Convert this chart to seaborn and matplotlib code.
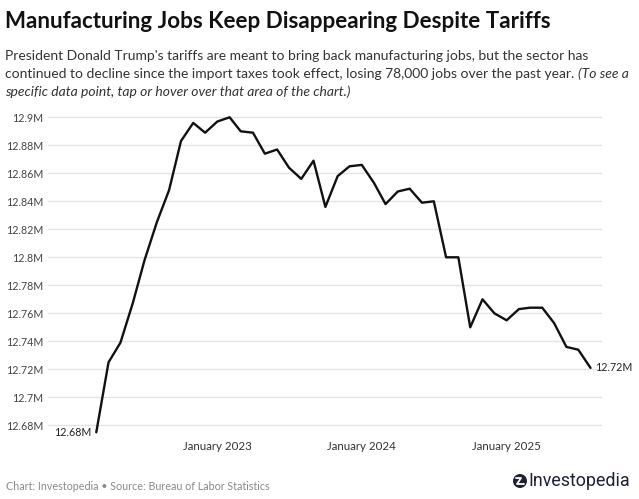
import matplotlib
matplotlib.use("Agg")
import matplotlib.pyplot as plt
from matplotlib.patches import Ellipse
from matplotlib.lines import Line2D
from matplotlib.ticker import FixedLocator, FuncFormatter
import pandas as pd
import seaborn as sns

# ---- data ----
months = pd.date_range("2022-03-01", "2025-08-01", freq="MS")
jobs_millions = [
    12.675, 12.725, 12.739, 12.767, 12.798, 12.825, 12.848, 12.883, 12.896, 12.889,
    12.897, 12.900, 12.890, 12.889, 12.874, 12.877, 12.864, 12.856, 12.869, 12.836,
    12.858, 12.865, 12.866, 12.853, 12.838, 12.847, 12.849, 12.839, 12.840, 12.800,
    12.800, 12.750, 12.770, 12.760, 12.755, 12.763, 12.764, 12.764, 12.753, 12.736,
    12.734, 12.721,
]
y_ticks = [12.68, 12.70, 12.72, 12.74, 12.76, 12.78, 12.80, 12.82, 12.84, 12.86, 12.88, 12.90]
x_tick_dates = ["2023-01-01", "2024-01-01", "2025-01-01"]
x_tick_labels = ["January 2023", "January 2024", "January 2025"]
start_label = "12.68M"
end_label = "12.72M"

title = "Manufacturing Jobs Keep Disappearing Despite Tariffs"
sub1 = "President Donald Trump's tariffs are meant to bring back manufacturing jobs, but the sector has"
sub2 = "continued to decline since the import taxes took effect, losing 78,000 jobs over the past year. "
sub2_it = "(To see a"
sub3_it = "specific data point, tap or hover over that area of the chart.)"
footer = "Chart: Investopedia \u2022 Source: Bureau of Labor Statistics"
brand = "Investopedia"

df = pd.DataFrame({"month": months, "jobs": jobs_millions})

sns.set_theme(style="white")
FONT = ["Lato", "DejaVu Sans"]
plt.rcParams["font.family"] = FONT

W, H = 639, 499
fig = plt.figure(figsize=(W / 100, H / 100), dpi=100)
fig.patch.set_facecolor("white")
renderer = fig.canvas.get_renderer()


def fx(x):
    return x / W


def fy(y):
    return 1 - y / H


def fit_size(s, target_px, **kw):
    """font size at which string s is target_px wide"""
    t = fig.text(0, 0, s, fontsize=10, **kw)
    w = t.get_window_extent(renderer).width
    t.remove()
    return 10 * target_px / w


# axes in pixel geometry
left, right, top, bottom = 48, 602, 111.7, 436.5
ax = fig.add_axes([fx(left), fy(bottom), (right - left) / W, (bottom - top) / H])
ax.set_facecolor("white")

sns.lineplot(data=df, x="month", y="jobs", ax=ax, color="#111111", linewidth=1.7)

ax.set_xlim(pd.Timestamp("2021-10-30"), pd.Timestamp("2025-08-30"))
ax.set_ylim(12.672, 12.904)

tick_fs = fit_size("12.68M", 37)
xt_fs = fit_size("January 2023", 69)

ax.yaxis.set_major_locator(FixedLocator(y_ticks))
ax.yaxis.set_major_formatter(FuncFormatter(lambda v, p: f"{round(v, 2):g}M"))
ax.set_xticks([pd.Timestamp(d) for d in x_tick_dates])
ax.set_xticklabels(x_tick_labels)
ax.grid(axis="y", color="#e4e4e4", linewidth=1.0)
ax.grid(axis="x", visible=False)
for s in ax.spines.values():
    s.set_visible(False)
ax.tick_params(axis="y", length=0, pad=3.6, labelsize=tick_fs, labelcolor="#444444")
ax.tick_params(axis="x", length=0, pad=3, labelsize=xt_fs, labelcolor="#333333")
ax.set_xlabel("")
ax.set_ylabel("")

# end labels
ax.annotate(start_label, xy=(df["month"].iloc[0], df["jobs"].iloc[0]), xytext=(-5, 0),
            textcoords="offset pixels", ha="right", va="center", fontsize=tick_fs, color="#222222")
ax.annotate(end_label, xy=(df["month"].iloc[-1], df["jobs"].iloc[-1]), xytext=(5, 0),
            textcoords="offset pixels", ha="left", va="center", fontsize=tick_fs, color="#222222")

# title & subtitle
title_fs = fit_size(title, 545, fontweight="bold")
fig.text(fx(5), fy(28), title, fontsize=title_fs, fontweight="bold", color="#111111", va="baseline")
sub_fs = fit_size(sub1, 582)
fig.text(fx(5), fy(60), sub1, fontsize=sub_fs, color="#333333", va="baseline")
t2 = fig.text(fx(5), fy(78), sub2, fontsize=sub_fs, color="#333333", va="baseline")
bb = t2.get_window_extent(renderer)
fig.text(bb.x1 / W, fy(78), sub2_it, fontsize=sub_fs, color="#333333", va="baseline", style="italic")
fig.text(fx(5), fy(96), sub3_it, fontsize=sub_fs, color="#333333", va="baseline", style="italic")

# footer
foot_fs = fit_size(footer, 264)
fig.text(fx(6), fy(487), footer, fontsize=foot_fs, color="#8a8a8a", va="center")

# brand logo
fig.patches.append(Ellipse((fx(520), fy(481)), 14 / W, 14 / H, transform=fig.transFigure,
                           facecolor="#1d2233", edgecolor="none"))
fig.lines.append(Line2D([fx(516), fx(521), fx(517), fx(524)], [fy(478), fy(478), fy(484), fy(484)],
                        transform=fig.transFigure, color="white", linewidth=1.3))
brand_fs = fit_size(brand, 102, family=["Roboto", "DejaVu Sans"])
fig.text(fx(528), fy(481), brand, fontsize=brand_fs, color="#1d2233", va="center",
         family=["Roboto", "DejaVu Sans"])

fig.savefig("out.png", dpi=100, facecolor="white")
